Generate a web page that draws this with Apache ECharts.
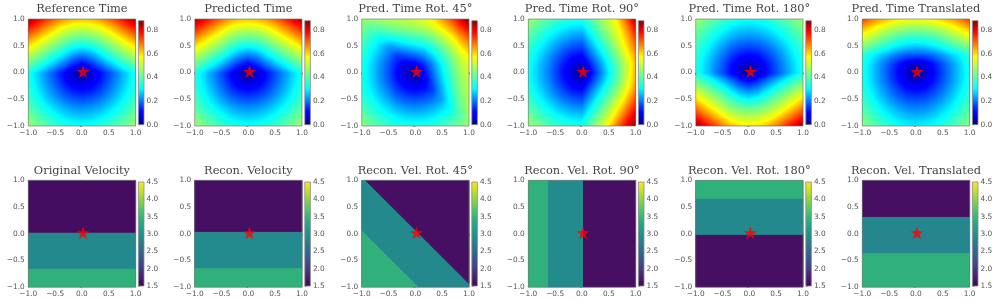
<!DOCTYPE html>
<html><head><meta charset="utf-8">
<style>html,body{margin:0;padding:0;background:#fff}#c{width:997px;height:304px}</style>
<script src="https://cdn.jsdelivr.net/npm/echarts@6/dist/echarts.min.js"></script>
</head><body><div id="c"></div>
<script>
// Grid nodes of every time panel: x and y run -1..1 in 13 steps; rows listed top (y=1) to bottom (y=-1).
const gridAxis=[-1,-0.8333,-0.6667,-0.5,-0.3333,-0.1667,0,0.1667,0.3333,0.5,0.6667,0.8333,1];
const panelTitles=["Reference Time","Predicted Time","Pred. Time Rot. 45°","Pred. Time Rot. 90°","Pred. Time Rot. 180°","Pred. Time Translated",
"Original Velocity","Recon. Velocity","Recon. Vel. Rot. 45°","Recon. Vel. Rot. 90°","Recon. Vel. Rot. 180°","Recon. Vel. Translated"];
const timeRange=[0,0.88];
const velRange=[1.5,4.5];
const starPoint=[0.02,0.02];

const timeRef=[
[.861,.806,.75,.699,.659,.634,.625,.634,.659,.699,.75,.806,.861],
[.773,.718,.662,.607,.561,.531,.52,.531,.561,.607,.662,.718,.773],
[.685,.63,.574,.519,.466,.43,.417,.43,.466,.519,.574,.63,.685],
[.597,.542,.486,.431,.375,.33,.3125,.33,.375,.431,.486,.542,.597],
[.509,.454,.398,.343,.287,.233,.208,.233,.287,.343,.398,.454,.509],
[.421,.366,.31,.255,.199,.144,.104,.144,.199,.255,.31,.366,.421],
[.333,.278,.222,.167,.111,.056,0,.056,.111,.167,.222,.278,.333],
[.339,.283,.229,.176,.124,.079,.056,.079,.124,.176,.229,.283,.339],
[.351,.3,.248,.2,.157,.124,.111,.124,.157,.2,.248,.3,.351],
[.373,.325,.278,.236,.2,.176,.167,.176,.2,.236,.278,.325,.373],
[.4,.356,.314,.278,.248,.229,.222,.229,.248,.278,.314,.356,.4],
[.44,.395,.356,.322,.294,.277,.27,.277,.294,.322,.356,.395,.44],
[.47,.435,.4,.368,.343,.327,.32,.327,.343,.368,.4,.435,.47]];
const timePred=[
[.85,.8,.745,.695,.655,.63,.622,.632,.658,.698,.748,.8,.85],
[.768,.715,.66,.606,.56,.53,.52,.531,.562,.608,.662,.715,.768],
[.682,.628,.573,.518,.466,.43,.418,.431,.467,.52,.574,.628,.682],
[.595,.541,.486,.431,.376,.331,.314,.331,.376,.432,.486,.541,.595],
[.508,.454,.398,.343,.288,.235,.21,.234,.288,.344,.398,.454,.508],
[.42,.366,.31,.255,.2,.146,.106,.145,.2,.256,.31,.366,.42],
[.335,.279,.223,.168,.112,.057,.004,.057,.112,.168,.223,.279,.335],
[.34,.284,.23,.177,.125,.08,.057,.08,.125,.177,.23,.284,.34],
[.352,.301,.249,.201,.158,.125,.112,.125,.158,.201,.249,.301,.352],
[.374,.326,.279,.237,.201,.177,.168,.177,.201,.237,.279,.326,.374],
[.401,.357,.315,.279,.249,.23,.223,.23,.249,.279,.315,.357,.401],
[.44,.396,.357,.323,.295,.278,.271,.278,.295,.323,.357,.396,.44],
[.472,.436,.401,.369,.344,.328,.321,.328,.344,.369,.401,.436,.472]];
const timeRot45=[
[.46,.47,.48,.49,.5,.51,.525,.55,.59,.65,.72,.8,.88],
[.434,.393,.41,.425,.44,.455,.47,.49,.53,.585,.65,.73,.8],
[.401,.356,.314,.33,.345,.36,.38,.4,.44,.5,.57,.65,.72],
[.373,.324,.278,.236,.25,.27,.29,.31,.36,.425,.5,.585,.65],
[.351,.299,.248,.2,.157,.175,.195,.225,.285,.36,.44,.53,.59],
[.338,.283,.229,.176,.124,.079,.1,.145,.225,.31,.4,.49,.55],
[.333,.278,.222,.167,.111,.056,0,.1,.195,.29,.38,.47,.525],
[.33,.283,.229,.176,.124,.079,.056,.079,.175,.27,.36,.455,.51],
[.34,.299,.248,.2,.157,.124,.111,.124,.157,.25,.345,.44,.5],
[.36,.32,.278,.236,.2,.176,.167,.176,.2,.236,.33,.425,.49],
[.39,.35,.31,.278,.248,.229,.222,.229,.248,.278,.314,.41,.48],
[.42,.38,.35,.32,.299,.283,.278,.283,.299,.324,.356,.393,.47],
[.46,.42,.39,.36,.34,.338,.333,.338,.351,.373,.401,.434,.46]];
const timeRot90=[
[.47,.44,.4,.373,.351,.339,.333,.39,.46,.53,.6,.72,.85],
[.435,.395,.356,.325,.3,.283,.278,.345,.42,.49,.565,.67,.79],
[.4,.356,.314,.278,.248,.229,.222,.295,.37,.45,.535,.63,.74],
[.368,.322,.278,.236,.2,.176,.167,.245,.325,.405,.5,.6,.7],
[.343,.294,.248,.2,.157,.124,.111,.195,.275,.36,.45,.56,.66],
[.327,.277,.229,.176,.124,.079,.056,.144,.225,.32,.415,.52,.64],
[.32,.27,.222,.167,.111,.056,0,.104,.2,.3,.4,.52,.65],
[.327,.277,.229,.176,.124,.079,.056,.144,.23,.325,.42,.535,.65],
[.343,.294,.248,.2,.157,.124,.111,.199,.285,.37,.46,.57,.68],
[.368,.322,.278,.236,.2,.176,.167,.25,.335,.42,.515,.62,.73],
[.4,.356,.314,.278,.248,.229,.222,.305,.39,.475,.575,.68,.78],
[.435,.395,.356,.325,.3,.283,.278,.36,.445,.53,.64,.74,.83],
[.47,.44,.4,.373,.351,.339,.333,.415,.5,.59,.7,.8,.87]];
const timeRot180=[
[.47,.435,.4,.368,.343,.327,.32,.327,.343,.368,.4,.435,.47],
[.44,.395,.356,.322,.294,.277,.27,.277,.294,.322,.356,.395,.44],
[.4,.356,.314,.278,.248,.229,.222,.229,.248,.278,.314,.356,.4],
[.373,.325,.278,.236,.2,.176,.167,.176,.2,.236,.278,.325,.373],
[.351,.3,.248,.2,.157,.124,.111,.124,.157,.2,.248,.3,.351],
[.339,.283,.229,.176,.124,.079,.056,.079,.124,.176,.229,.283,.339],
[.333,.278,.222,.167,.111,.056,0,.056,.111,.167,.222,.278,.333],
[.421,.366,.31,.255,.199,.144,.104,.144,.199,.255,.31,.366,.421],
[.509,.454,.398,.343,.287,.233,.208,.233,.287,.343,.398,.454,.509],
[.597,.54,.48,.425,.37,.325,.305,.325,.37,.425,.48,.54,.597],
[.685,.62,.56,.5,.45,.42,.41,.42,.45,.5,.56,.62,.685],
[.773,.71,.65,.59,.54,.51,.5,.51,.54,.59,.65,.71,.773],
[.861,.8,.74,.68,.63,.6,.59,.6,.63,.68,.74,.8,.861]];
const timeTrans=[
[.74,.69,.65,.62,.59,.575,.57,.575,.59,.62,.65,.69,.74],
[.64,.595,.55,.51,.485,.465,.46,.465,.485,.51,.55,.595,.64],
[.55,.5,.46,.42,.385,.365,.36,.365,.385,.42,.46,.5,.55],
[.455,.41,.37,.33,.3,.278,.27,.278,.3,.33,.37,.41,.455],
[.36,.31,.27,.235,.2,.18,.175,.18,.2,.235,.27,.31,.36],
[.339,.283,.229,.176,.124,.079,.056,.079,.124,.176,.229,.283,.339],
[.333,.278,.222,.167,.111,.056,0,.056,.111,.167,.222,.278,.333],
[.339,.283,.229,.176,.124,.079,.056,.079,.124,.176,.229,.283,.339],
[.351,.3,.248,.2,.157,.124,.111,.124,.157,.2,.248,.3,.351],
[.368,.32,.275,.232,.196,.172,.165,.172,.196,.232,.275,.32,.368],
[.395,.35,.305,.27,.238,.218,.21,.218,.238,.27,.305,.35,.395],
[.425,.382,.342,.308,.28,.262,.255,.262,.28,.308,.342,.382,.425],
[.455,.418,.382,.35,.325,.307,.3,.307,.325,.35,.382,.418,.455]];

// Velocity panels: regions as [velocity, [[x,y],...]] in axis units, painted in order.
const velOriginal=[[2.9,[[-1,.03],[1,.03],[1,-.665],[-1,-.665]]],[1.6,[[-1,1],[1,1],[1,.03],[-1,.03]]],[3.42,[[-1,-.665],[1,-.665],[1,-1],[-1,-1]]]];
const velRecon=[[2.92,[[-1,.03],[1,.03],[1,-.655],[-1,-.655]]],[1.62,[[-1,1],[1,1],[1,.04],[-1,.04]]],[3.42,[[-1,-.655],[1,-.655],[1,-1],[-1,-1]]]];
const velRot45=[[2.9,[[-1,1],[-.93,1],[1,-.93],[1,-1],[.05,-1],[-1,.05]]],[1.62,[[-.93,1],[1,1],[1,-.93]]],[3.42,[[-1,.05],[.05,-1],[-1,-1]]]];
const velRot90=[[2.92,[[-.645,1],[.03,1],[.03,-1],[-.645,-1]]],[3.42,[[-1,1],[-.645,1],[-.645,-1],[-1,-1]]],[1.62,[[.03,1],[1,1],[1,-1],[.03,-1]]]];
const velRot180=[[2.9,[[-1,.665],[1,.665],[1,-.03],[-1,-.03]]],[3.42,[[-1,1],[1,1],[1,.665],[-1,.665]]],[1.62,[[-1,-.03],[1,-.03],[1,-1],[-1,-1]]]];
const velTrans=[[2.88,[[-1,.325],[1,.325],[1,-.37],[-1,-.37]]],[1.62,[[-1,1],[1,1],[1,.325],[-1,.325]]],[3.42,[[-1,-.37],[1,-.37],[1,-1],[-1,-1]]]];

const jetStops=[[0,'#00007f'],[.11,'#0000ff'],[.125,'#0000ff'],[.35,'#00ffff'],[.5,'#7fff7f'],[.65,'#ffff00'],[.89,'#ff0000'],[1,'#7f0000']];
const viridisStops=[[0,'#440154'],[.1,'#482475'],[.2,'#414487'],[.3,'#355f8d'],[.4,'#2a788e'],[.5,'#21918c'],[.6,'#22a884'],[.7,'#44bf70'],[.8,'#7ad151'],[.9,'#bddf26'],[1,'#fde725']];

const rgb=h=>[1,3,5].map(i=>parseInt(h.substr(i,2),16));
function colorAt(stops,t){
  t=Math.max(0,Math.min(1,t));
  for(let i=1;i<stops.length;i++){
    if(t<=stops[i][0]){
      const a=stops[i-1],b=stops[i],f=(t-a[0])/(b[0]-a[0]||1),A=rgb(a[1]),B=rgb(b[1]);
      return 'rgb('+A.map((v,k)=>Math.round(v+(B[k]-v)*f)).join(',')+')';
    }
  }
  return stops[stops.length-1][1];
}
function timeSeries(matrix,idx){
  const data=[];
  matrix.forEach((row,r)=>row.forEach((v,c)=>data.push([gridAxis[c],-gridAxis[r],v,r,c])));
  return {type:'custom',xAxisIndex:idx,yAxisIndex:idx,data,silent:true,animation:false,clip:true,progressive:0,
    dimensions:['x','y','v','r','c'],encode:{x:0,y:1},
    renderItem(params,api){
      const r=api.value(3),c=api.value(4);
      if(r>=12||c>=12) return null;
      const p0=api.coord([gridAxis[c],-gridAxis[r]]),p1=api.coord([gridAxis[c+1],-gridAxis[r+1]]);
      const x0=Math.round(p0[0]),x1=Math.round(p1[0]),y0=Math.round(p0[1]),y1=Math.round(p1[1]);
      const a=matrix[r][c],b=matrix[r][c+1],d=matrix[r+1][c],e=matrix[r+1][c+1];
      const children=[];
      for(let py=y0;py<y1;py++)for(let px=x0;px<x1;px++){
        const fx=(px+.5-x0)/(x1-x0),fy=(py+.5-y0)/(y1-y0);
        const val=(a*(1-fx)+b*fx)*(1-fy)+(d*(1-fx)+e*fx)*fy;
        children.push({type:'rect',shape:{x:px,y:py,width:1,height:1},
          style:{fill:colorAt(jetStops,val/timeRange[1])}});
      }
      return {type:'group',children};
    }};
}
function velSeries(regions,idx){
  return {type:'custom',xAxisIndex:idx,yAxisIndex:idx,data:regions.map((g,i)=>[g[1][0][0],g[1][0][1],g[0],i]),
    silent:true,animation:false,clip:true,encode:{x:0,y:1},
    renderItem(params,api){
      const g=regions[api.value(3)],col=colorAt(viridisStops,(g[0]-velRange[0])/(velRange[1]-velRange[0]));
      return {type:'polygon',shape:{points:g[1].map(p=>api.coord(p))},style:{fill:col,stroke:col,lineWidth:1}};
    }};
}
const panelLeft=[28.3,194.7,361.7,528.3,695.7,862.3];
const rowTop=[19,180.3];
const W=107.3,H=107;
const timeData=[timeRef,timePred,timeRot45,timeRot90,timeRot180,timeTrans];
const velData=[velOriginal,velRecon,velRot45,velRot90,velRot180,velTrans];
const fmt=v=>v.toFixed(1).replace('-','\u2212');
const labelStyle={fontFamily:'DejaVu Sans',fontSize:7.4,color:'#555'};
const STAR='path://M50 0 L61.8 36.3 L100 36.3 L69.1 58.8 L80.9 95.1 L50 72.6 L19.1 95.1 L30.9 58.8 L0 36.3 L38.2 36.3 Z';
const option={animation:false,backgroundColor:'#fff',grid:[],xAxis:[],yAxis:[],series:[],title:[]};
for(let n=0;n<12;n++){
  const row=n<6?0:1,col=n%6,L=panelLeft[col],T=rowTop[row];
  const idx=option.grid.length;
  option.grid.push({left:L,top:T,width:W,height:H,show:false});
  const ax=pos=>({type:'value',position:pos,min:-1,max:1,interval:.5,splitLine:{show:false},
    axisLine:{show:false},axisTick:{show:true,length:2,lineStyle:{color:'#777',width:.8}},
    axisLabel:{...labelStyle,margin:3.5,formatter:fmt}});
  option.xAxis.push({...ax('bottom'),gridIndex:idx});
  option.yAxis.push({...ax('left'),gridIndex:idx});
  option.series.push(row===0?timeSeries(timeData[col],idx):velSeries(velData[col],idx));
  option.series.push({type:'custom',xAxisIndex:idx,yAxisIndex:idx,data:[[0,0]],silent:true,animation:false,z:4,
    renderItem(p,api){const a=api.coord([-1,1]),b=api.coord([1,-1]);
      return {type:'rect',shape:{x:a[0],y:a[1],width:b[0]-a[0],height:b[1]-a[1]},style:{fill:'none',stroke:'rgba(110,120,110,.75)',lineWidth:.9}};}});
  option.series.push({type:'scatter',xAxisIndex:idx,yAxisIndex:idx,data:[starPoint],symbol:STAR,symbolSize:13,
    itemStyle:{color:'#ff0000'},silent:true,animation:false,z:5});
  option.title.push({text:panelTitles[n],left:L+W/2,top:T-15.2,padding:0,textAlign:'center',
    textStyle:{fontFamily:'DejaVu Serif',fontSize:11.4,fontWeight:'normal',color:'#444'}});
  const cb=option.grid.length,range=row===0?timeRange:velRange,stops=row===0?jetStops:viridisStops;
  option.grid.push({left:L+W+2.8,top:T+1.7,width:5.6,height:104,show:false});
  option.xAxis.push({type:'value',gridIndex:cb,min:0,max:1,show:false});
  option.yAxis.push({type:'value',gridIndex:cb,position:'right',min:range[0],max:range[1],
    interval:row===0?.2:.5,splitLine:{show:false},axisLine:{show:false},
    axisTick:{show:true,length:2,lineStyle:{color:'#777',width:.8}},
    axisLabel:{...labelStyle,margin:2.5,showMaxLabel:row===1,formatter:v=>v.toFixed(1)}});
  option.series.push({type:'custom',xAxisIndex:cb,yAxisIndex:cb,data:[[0,range[0]]],silent:true,animation:false,
    renderItem(p,api){const a=api.coord([0,range[1]]),b=api.coord([1,range[0]]);
      return {type:'rect',shape:{x:a[0],y:a[1],width:b[0]-a[0],height:b[1]-a[1]},
        style:{fill:new echarts.graphic.LinearGradient(0,1,0,0,stops.map(s=>({offset:s[0],color:s[1]}))),stroke:'#8a8a8a',lineWidth:.8}};}});
}
const chart=echarts.init(document.getElementById('c'),null,{renderer:'canvas'});
chart.setOption(option);
</script></body></html>
